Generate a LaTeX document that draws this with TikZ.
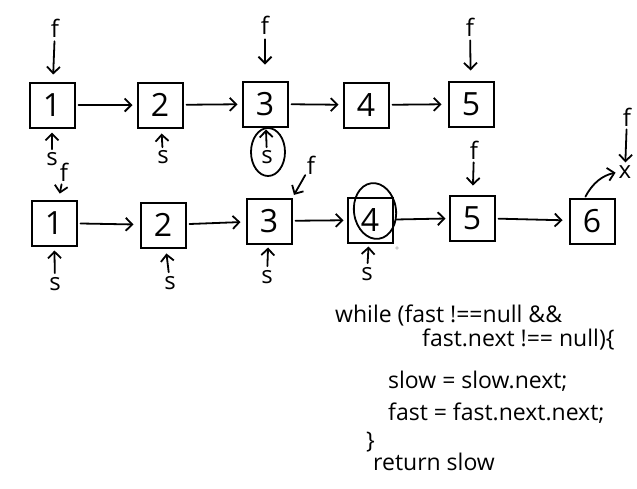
\documentclass[tikz,border=0pt]{standalone}
\usepackage{fontspec}
\setmainfont{Open Sans}
\usetikzlibrary{arrows.meta}
\begin{document}
\begin{tikzpicture}[x=1pt,y=-1pt,
  box/.style={draw, line width=2pt, minimum size=45pt, inner sep=0pt, font=\fontsize{32}{32}\selectfont},
  lab/.style={font=\fontsize{24}{24}\selectfont, inner sep=0pt},
  code/.style={font=\fontsize{23}{23}\selectfont, inner sep=0pt, anchor=base west},
  arr/.style={line width=1.8pt, line cap=round, -{Straight Barb[length=6.5pt,width=13pt,line width=1.8pt]}},
  circ/.style={line width=1.8pt}]
\useasboundingbox (0,0) rectangle (637,488);
\fill[white] (0,0) rectangle (637,488);
% top row
\node[box] (a1) at (52,105) {1};
\node[box] (a2) at (160,105) {2};
\node[box] (a3) at (265,104) {3};
\node[box] (a4) at (366,105) {4};
\node[box] (a5) at (471,104) {5};
\draw[arr, shorten <=3pt, shorten >=4pt] (a1) -- (a2);
\draw[arr, shorten <=3pt, shorten >=4pt] (a2) -- (a3);
\draw[arr, shorten <=3pt, shorten >=4pt] (a3) -- (a4);
\draw[arr, shorten <=3pt, shorten >=6pt] (a4) -- (a5);
% top f
\node[lab] (fa1) at (55,28) {f};
\node[lab] (fa3) at (265,25) {f};
\node[lab] (fa5) at (470,27) {f};
\draw[arr, shorten <=4pt, shorten >=7pt] (fa1) -- (a1);
\draw[arr, shorten <=5pt, shorten >=16pt] (fa3) -- (a3);
\draw[arr, shorten <=4pt, shorten >=10pt] (fa5) -- (a5);
% top s
\node[lab] (sa1) at (52,159) {s};
\node[lab] (sa2) at (163,157) {s};
\node[lab] (sa3) at (267,157) {s};
\draw[arr, shorten <=3pt, shorten >=4pt] (sa1) -- (a1);
\draw[arr, shorten <=3pt, shorten >=5pt] (sa2) -- (a2);
\draw[arr, shorten <=3pt, shorten >=2pt] (sa3) -- (a3);
\draw[circ] (268,152) ellipse [x radius=17, y radius=24];
% bottom row
\node[box] (b1) at (54,223) {1};
\node[box] (b2) at (163,225) {2};
\node[box] (b3) at (269,221) {3};
\node[box] (b4) at (370,220) {4};
\node[box] (b5) at (472,218) {5};
\node[box] (b6) at (592,221) {6};
\draw[arr, shorten <=3pt, shorten >=6pt] (b1) -- (b2);
\draw[arr, shorten <=3pt, shorten >=5pt] (b2) -- (b3);
\draw[arr, shorten <=3pt, shorten >=3pt] (b3) -- (b4);
\draw[arr, shorten <=3pt, shorten >=3pt] (b4) -- (b5);
\draw[arr, shorten <=3pt, shorten >=6pt] (b5) -- (b6);
\draw[circ, rotate around={8:(375,211)}] (375,211) ellipse [x radius=21, y radius=28];
\fill[gray!40] (397,248) circle (1.8);
% bottom f
\node[lab] (fb1) at (64,172) {f};
\node[lab] (fb3) at (311,165) {f};
\node[lab] (fb5) at (474,150) {f};
\node[lab] (f6) at (627,117) {f};
\node[lab] (xx) at (625,172) {x};
\draw[arr, shorten <=3pt, shorten >=6pt] (fb1) -- (b1);
\draw[arr, shorten <=3pt, shorten >=3pt] (fb3) -- (b3.north east);
\draw[arr, shorten <=3pt, shorten >=9pt] (fb5) -- (b5);
\draw[arr, shorten <=3pt, shorten >=3pt] (f6) -- (xx);
\draw[arr, shorten <=1pt, shorten >=3pt] ([xshift=-7pt]b6.north) to[bend left=25] (xx.west);
% bottom s
\node[lab] (sb1) at (55,284) {s};
\node[lab] (sb2) at (170,283) {s};
\node[lab] (sb3) at (267,277) {s};
\node[lab] (sb4) at (367,274) {s};
\draw[arr, shorten <=4pt, shorten >=4pt] (sb1) -- (b1);
\draw[arr, shorten <=4pt, shorten >=5pt] (sb2) -- (b2);
\draw[arr, shorten <=4pt, shorten >=3pt] (sb3) -- (b3);
\draw[arr, shorten <=4pt, shorten >=3pt] (sb4) -- (b4);
% code
\node[code] (c1) at (335,322) {while (fast !==null \&\&};
\node[code] (c2) at (422,346) {fast.next !== null)\{};
\node[code] (c3) at (388,388) {slow = slow.next;};
\node[code] (c4) at (388,420) {fast = fast.next.next;};
\node[code] (c5) at (366,448) {\}};
\node[code] (c6) at (373,470) {return slow};
\end{tikzpicture}
\end{document}
